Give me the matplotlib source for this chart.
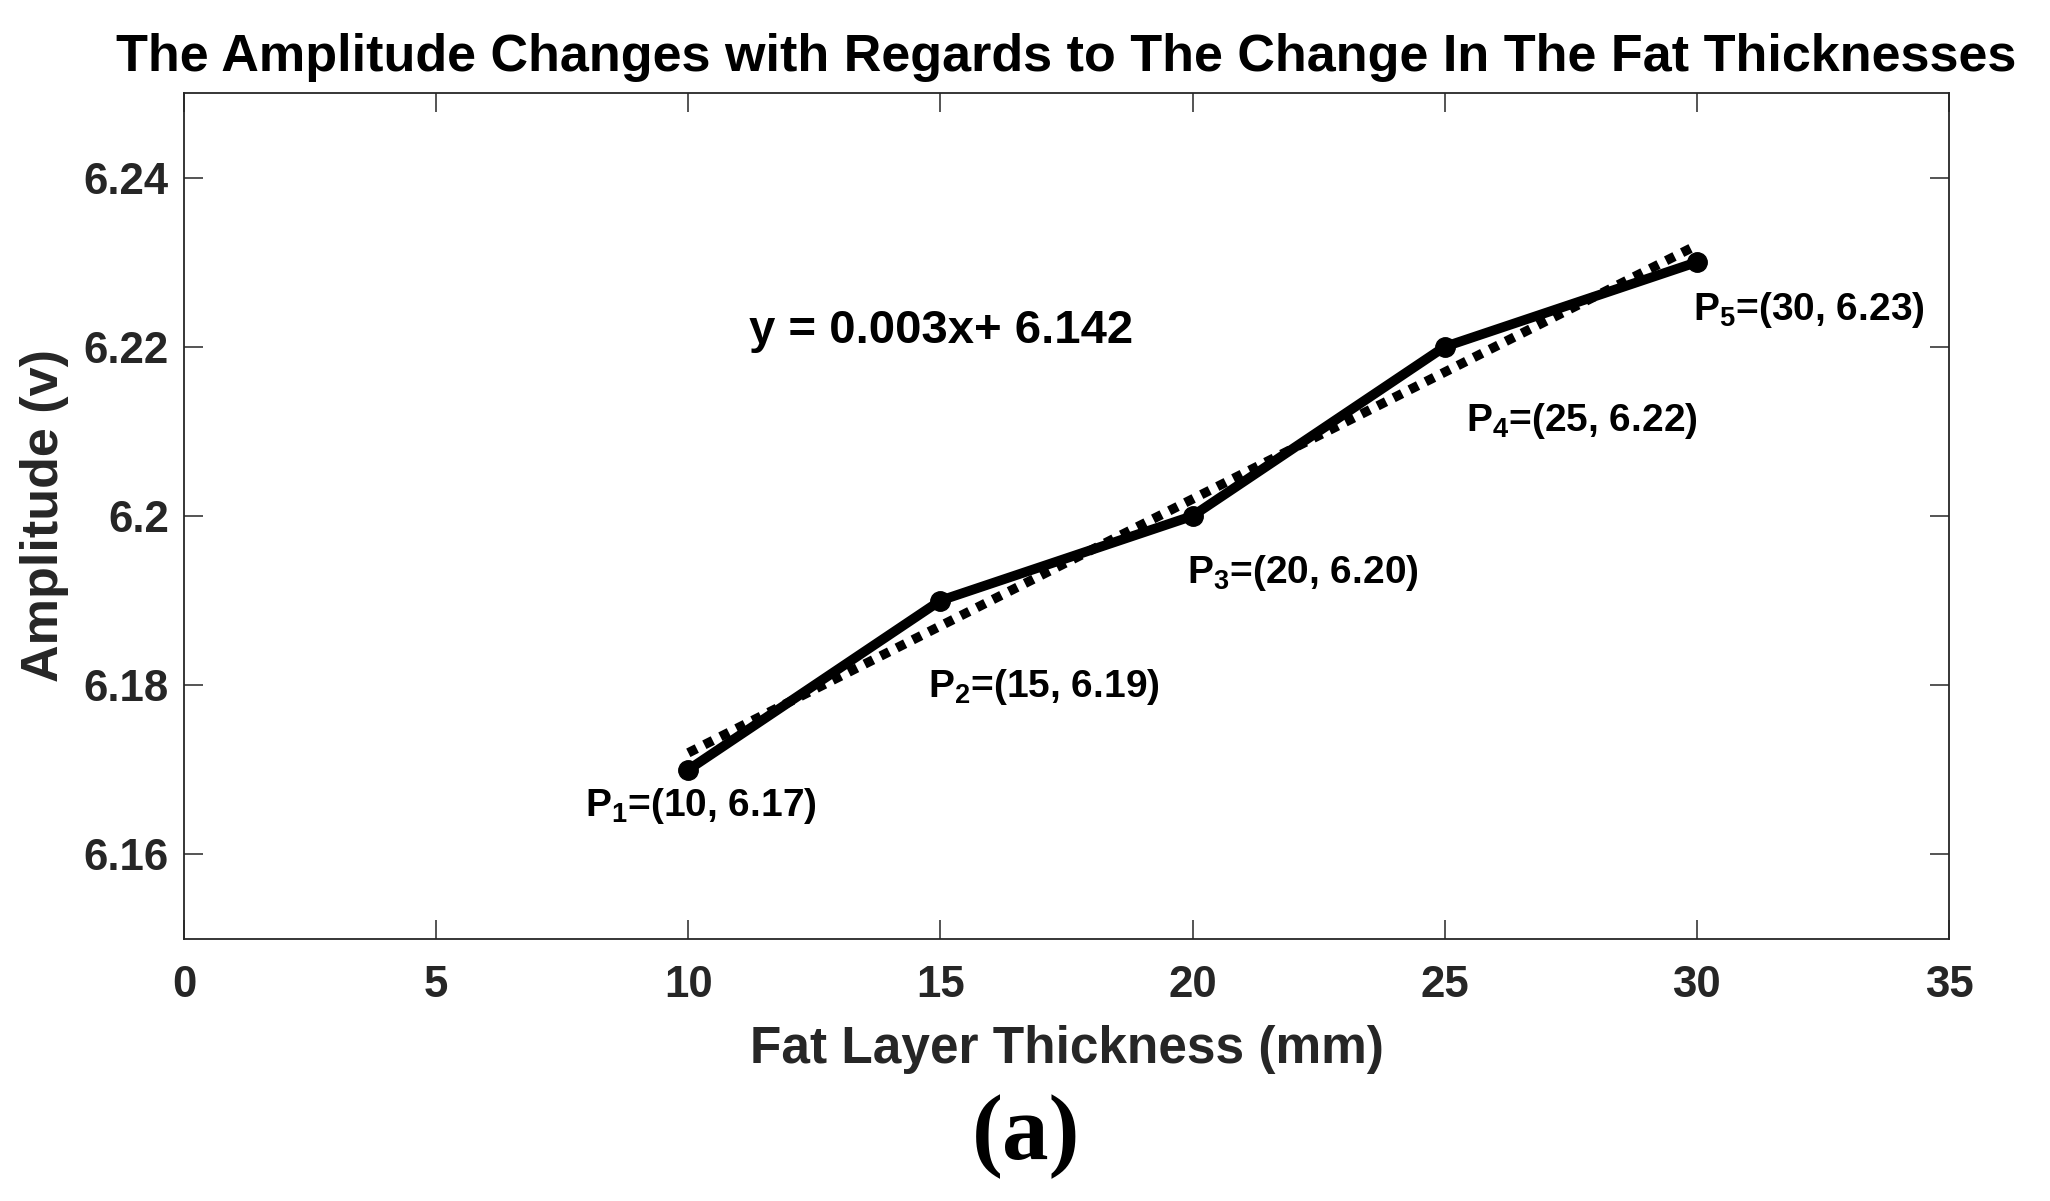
import numpy as np
import matplotlib
matplotlib.use('Agg')
import matplotlib.pyplot as plt

plt.rcParams['font.family'] = ['Liberation Sans', 'DejaVu Sans']
plt.rcParams['font.weight'] = 'bold'
plt.rcParams['mathtext.fontset'] = 'custom'
plt.rcParams['mathtext.rm'] = 'Liberation Sans:bold'
plt.rcParams['mathtext.it'] = 'Liberation Sans:bold'
plt.rcParams['mathtext.bf'] = 'Liberation Sans:bold'

# data
thickness = [10, 15, 20, 25, 30]
amplitude = [6.17, 6.19, 6.20, 6.22, 6.23]
point_names = ['P$_1$', 'P$_2$', 'P$_3$', 'P$_4$', 'P$_5$']
xticks = [0, 5, 10, 15, 20, 25, 30, 35]
yticks = [6.16, 6.18, 6.2, 6.22, 6.24]
ytick_labels = ['6.16', '6.18', '6.2', '6.22', '6.24']

# label placement (offset from each point, data units)
label_dx = [-2.05, -0.24, -0.11, 0.42, -0.07]
label_dy = [-0.0055, -0.0114, -0.0079, -0.0100, -0.0068]

# least squares line
slope, intercept = np.polyfit(thickness, amplitude, 1)
fit_x = np.array([thickness[0], thickness[-1]])
fit_y = slope * fit_x + intercept

gray = '#262626'

fig = plt.figure(figsize=(20.5, 12.01), dpi=100)
ax = fig.add_axes([0.0898, 0.2182, 0.8609, 0.7044])

ax.plot(fit_x, fit_y, color='black', linewidth=6.8, dashes=(1.0, 0.9),
        dash_capstyle='butt')
ax.plot(thickness, amplitude, color='black', linewidth=7, marker='o',
        markersize=14, solid_capstyle='round')

for name, x, y, dx, dy in zip(point_names, thickness, amplitude, label_dx, label_dy):
    ax.text(x + dx, y + dy, f'{name}=({x}, {y:.2f})', fontsize=28,
            fontweight='bold', color='black', ha='left', va='baseline')

ax.text(11.2, 6.2219, f'y = {slope:.3f}x+ {intercept:.3f}', fontsize=34,
        fontweight='bold', color='black', ha='left', va='center')

ax.set_xlim(0, 35)
ax.set_ylim(6.15, 6.25)
ax.set_xticks(xticks)
ax.set_yticks(yticks)
ax.set_yticklabels(ytick_labels)
ax.tick_params(direction='in', length=13.5, width=1.1, colors=gray,
               labelsize=31.5, top=True, right=True)
ax.tick_params(axis='x', pad=19)
ax.tick_params(axis='y', pad=11)
for lab in ax.get_xticklabels() + ax.get_yticklabels():
    lab.set_fontweight('bold')
for sp in ax.spines.values():
    sp.set_linewidth(1.3)
    sp.set_color(gray)

ax.set_xlabel('Fat Layer Thickness (mm)', fontsize=37, fontweight='bold',
              color=gray, va='baseline')
ax.xaxis.set_label_coords(0.5, -0.1466)
ax.set_ylabel('Amplitude (v)', fontsize=37.5, fontweight='bold', color=gray,
              va='center')
ax.yaxis.set_label_coords(-0.0793, 0.5)

ax.set_title('The Amplitude Changes with Regards to The Change In The Fat Thicknesses',
             fontsize=37.5, fontweight='bold', color='black', pad=16)

fig.text(0.5005, 0.054, '(a)', fontsize=67, fontweight='bold',
         family=['Liberation Serif', 'DejaVu Serif'], ha='center', va='center')

fig.savefig('out.png', dpi=100)
